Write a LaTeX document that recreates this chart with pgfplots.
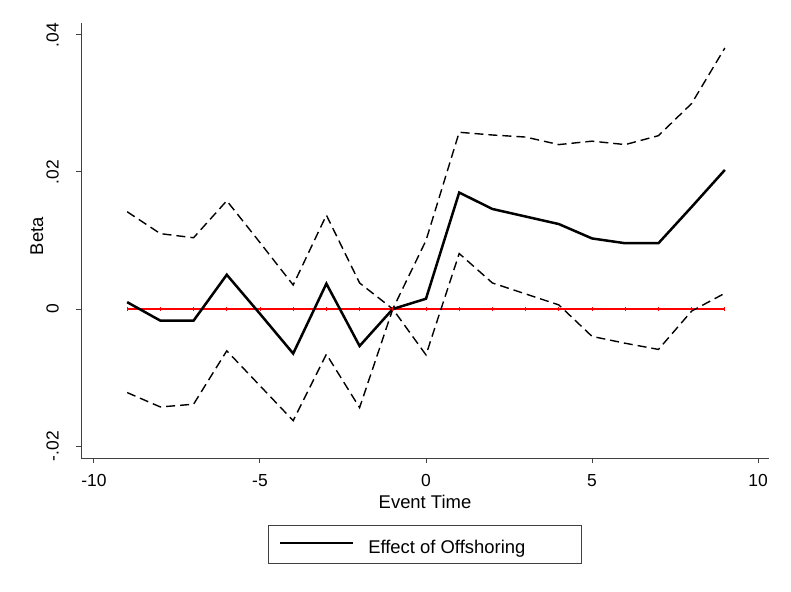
\documentclass[border=0pt]{standalone}
\usepackage{fontspec}
\setmainfont{Liberation Sans}
\usepackage{pgfplots}
\usepackage{pgfplotstable}
\pgfplotsset{compat=1.18}
\pgfplotstableread{
x y
-9 0.0010
-8 -0.0017
-7 -0.0017
-6 0.0050
-5 -0.0007
-4 -0.0065
-3 0.0037
-2 -0.0054
-1 0
0 0.0015
1 0.0170
2 0.0146
3 0.0135
4 0.0124
5 0.0103
6 0.0096
7 0.0096
8 0.0149
9 0.0203
}\betatab
\pgfplotstableread{
x y
-9 0.0142
-8 0.0110
-7 0.0104
-6 0.0158
-5 0.0097
-4 0.0035
-3 0.0137
-2 0.0038
-1 0
0 0.0100
1 0.0258
2 0.0254
3 0.0251
4 0.0240
5 0.0245
6 0.0240
7 0.0253
8 0.0300
9 0.0381
}\uppertab
\pgfplotstableread{
x y
-9 -0.0122
-8 -0.0143
-7 -0.0139
-6 -0.0061
-5 -0.0112
-4 -0.0163
-3 -0.0066
-2 -0.0144
-1 0
0 -0.0067
1 0.0081
2 0.0038
3 0.0022
4 0.0006
5 -0.0040
6 -0.0050
7 -0.0059
8 -0.0003
9 0.0023
}\lowertab
\begin{document}
\begin{tikzpicture}
\path[use as bounding box] (-81bp,-134bp) rectangle (710bp,458bp);
\begin{axis}[
  at={(0,0)}, anchor=south west,
  scale only axis,
  width=688bp, height=435bp,
  xmin=-10.39, xmax=10.33,
  ymin=-0.02175, ymax=0.04175,
  axis x line*=bottom, axis y line*=left,
  axis line style={-, line width=1bp, color=black!75},
  tick align=outside,
  major tick length=5bp,
  tick style={line width=1bp, color=black!75},
  xtick={-10,-5,0,5,10},
  xticklabels={-10,-5,0,5,10},
  ytick={-0.02,0,0.02,0.04},
  yticklabels={\rotatebox{90}{-.02},\rotatebox{90}{0},\rotatebox{90}{.02},\rotatebox{90}{.04}},
  scaled y ticks=false,
  xticklabel style={font=\fontsize{17.5}{20}\selectfont, anchor=north, inner sep=0pt, yshift=-11bp},
  yticklabel style={font=\fontsize{17.5}{20}\selectfont, anchor=east, inner sep=0pt, xshift=-17bp},
  xlabel={Event Time},
  ylabel={Beta},
  xlabel style={font=\fontsize{18.5}{22}\selectfont, at={(axis description cs:0.5,-0.117)}, anchor=base},
  ylabel style={font=\fontsize{18.5}{22}\selectfont, at={(axis description cs:-0.0552,0.51)}, anchor=base},
  clip=false,
  legend style={at={(0.5,-0.154)}, anchor=north, draw=black!75, line width=0.8bp,
    inner xsep=0pt, inner ysep=0pt, nodes={inner sep=0pt, text height=, text depth=},
    font=\fontsize{18.5}{22}\selectfont},
  legend image code/.code={\path (0bp,0bp); \draw[#1] (10bp,1.5bp) -- (83bp,1.5bp);},
]
\addplot[red, line width=1.6bp, mark=|, mark size=1.8bp, mark options={line width=0.8bp}, forget plot] coordinates {
(-9,0) (-8,0) (-7,0) (-6,0) (-5,0) (-4,0) (-3,0) (-2,0) (-1,0) (0,0)
(1,0) (2,0) (3,0) (4,0) (5,0) (6,0) (7,0) (8,0) (9,0)};
\addplot[black, line width=1.4bp, dash pattern=on 9bp off 5bp, forget plot] table[x=x,y=y] {\uppertab};
\addplot[black, line width=1.4bp, dash pattern=on 9bp off 5bp, forget plot] table[x=x,y=y] {\lowertab};
\addplot[black, line width=2.5bp] table[x=x,y=y] {\betatab};
\addlegendentry{\makebox[227bp][l]{\hspace*{14bp}\rule[-9.7bp]{0pt}{38bp}Effect of Offshoring}}
\end{axis}
\end{tikzpicture}
\end{document}
